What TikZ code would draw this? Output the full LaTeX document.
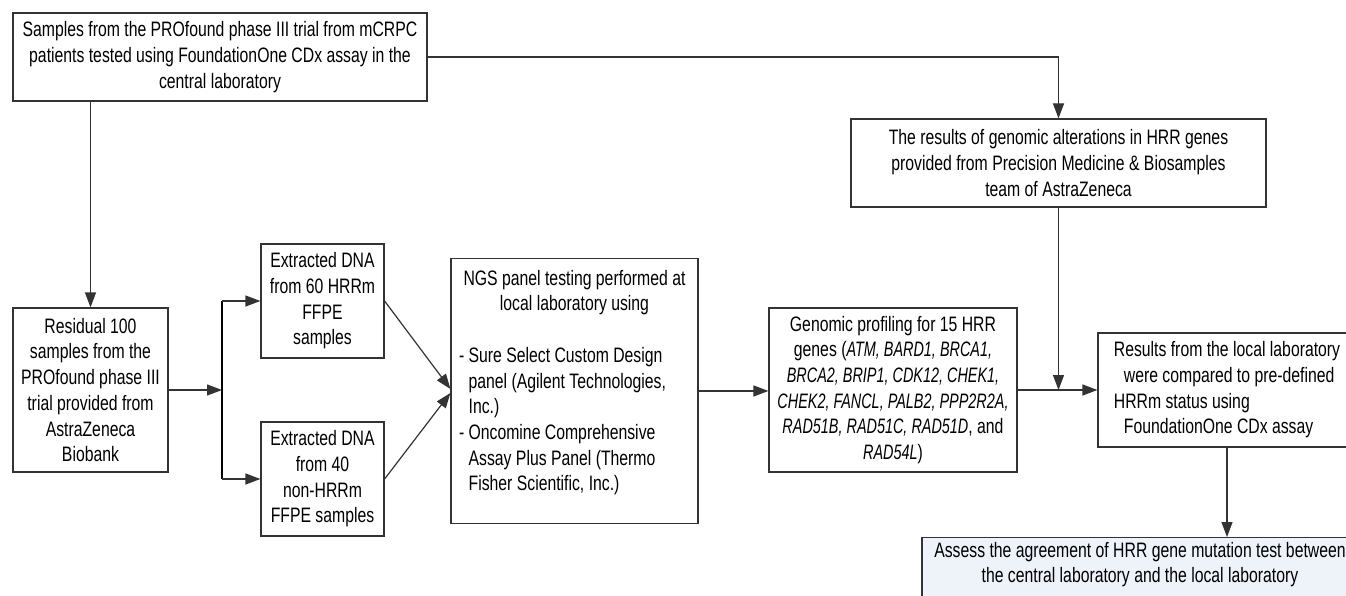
\documentclass[tikz,border=0pt]{standalone}
\usepackage{fontspec}
\setmainfont{Liberation Sans}[FakeStretch=0.755, ItalicFeatures={FakeStretch=0.69}]
\usetikzlibrary{arrows.meta}
\colorlet{col1}{black!80}
\definecolor{col2}{HTML}{EEF3FA}
\newcommand\ngsline[1]{\makebox[231pt][l]{#1}}

\begin{document}
\begin{tikzpicture}[x=1pt, y=-1pt, line width=1.2pt,
    font=\fontsize{20.9}{25.7}\selectfont,
    box/.style={draw=col1, align=center, inner sep=0pt},
    arr/.style={draw=col1, -{Triangle[length=15pt,width=11pt]}},
  ]
  \useasboundingbox (0,0) rectangle (1346,596);

  % boxes
  \node[box, minimum width=414pt, minimum height=88pt] (top) at (220,57)
    {Samples from the PROfound phase III trial from mCRPC\\
     patients tested using FoundationOne CDx assay in the\\
     central laboratory};
  \node[box, minimum width=415pt, minimum height=88pt] (pmb) at (1058.5,163)
    {The results of genomic alterations in HRR genes\\
     provided from Precision Medicine \& Biosamples\\
     team of AstraZeneca};
  \node[box, minimum width=155pt, minimum height=164pt] (resid) at (90.5,390)
    {Residual 100\\ samples from the\\ PROfound phase III\\
     trial provided from\\ AstraZeneca\\ Biobank};
  \node[box, minimum width=123pt, minimum height=114pt] (dna60) at (322.5,301)
    {Extracted DNA\\ from 60 HRRm\\ FFPE\\ samples};
  \node[box, minimum width=123pt, minimum height=114pt] (dna40) at (322.5,479)
    {Extracted DNA\\ from 40\\ non-HRRm\\ FFPE samples};
  \node[box, anchor=north, minimum width=247pt, inner ysep=11.5pt,
        text depth=21pt] (ngs) at (574.5,258)
    {NGS panel testing performed at\\
     local laboratory using\\[25.7pt]
     \ngsline{- Sure Select Custom Design}\\
     \ngsline{\hphantom{- }panel (Agilent Technologies,}\\
     \ngsline{\hphantom{- }Inc.)}\\
     \ngsline{- Oncomine Comprehensive}\\
     \ngsline{\hphantom{- }Assay Plus Panel (Thermo}\\
     \ngsline{\hphantom{- }Fisher Scientific, Inc.)}};
  \node[box, minimum width=248pt, minimum height=164pt] (prof) at (893,390)
    {Genomic profiling for 15 HRR\\
     genes (\textit{ATM, BARD1, BRCA1,}\\
     \textit{BRCA2, BRIP1, CDK12, CHEK1,}\\
     \textit{CHEK2, FANCL, PALB2, PPP2R2A,}\\
     \textit{RAD51B, RAD51C, RAD51D}, and\\
     \textit{RAD54L})};
  \node[box, align=left, minimum width=258pt, minimum height=114pt] (res) at (1227,390)
    {Results from the local laboratory\\
     \hspace*{10pt}were compared to pre-defined\\
     HRRm status using\\
     \hspace*{10pt}FoundationOne CDx assay};
  \node[box, fill=col2, anchor=north, minimum width=436pt, inner ysep=4.5pt,
        text depth=60pt] (agree) at (1140,537)
    {Assess the agreement of HRR gene mutation test between\\
     the central laboratory and the local laboratory};

  % connectors
  \coordinate (split) at (222,390);
  \draw[arr] (top.south -| resid.north) -- (resid.north);
  \draw[arr] (top.east) -| (pmb.north);
  \draw[arr] (resid.east) -- (split);
  \draw (split |- dna60) -- (split |- dna40);
  \draw[arr] (split |- dna60) -- (dna60.west);
  \draw[arr] (split |- dna40) -- (dna40.west);
  \draw[arr] (dna60.east) -- ([yshift=2pt]ngs.west);
  \draw[arr] (dna40.east) -- ([yshift=-2pt]ngs.west);
  \draw[arr] (ngs.east) -- (ngs.east -| prof.west);
  \draw[arr] (prof.east) -- (prof.east -| res.west);
  \draw[arr] (pmb.south) -- (pmb.south |- prof.east);
  \draw[arr] (res.south) -- (res.south |- agree.north);
\end{tikzpicture}
\end{document}
